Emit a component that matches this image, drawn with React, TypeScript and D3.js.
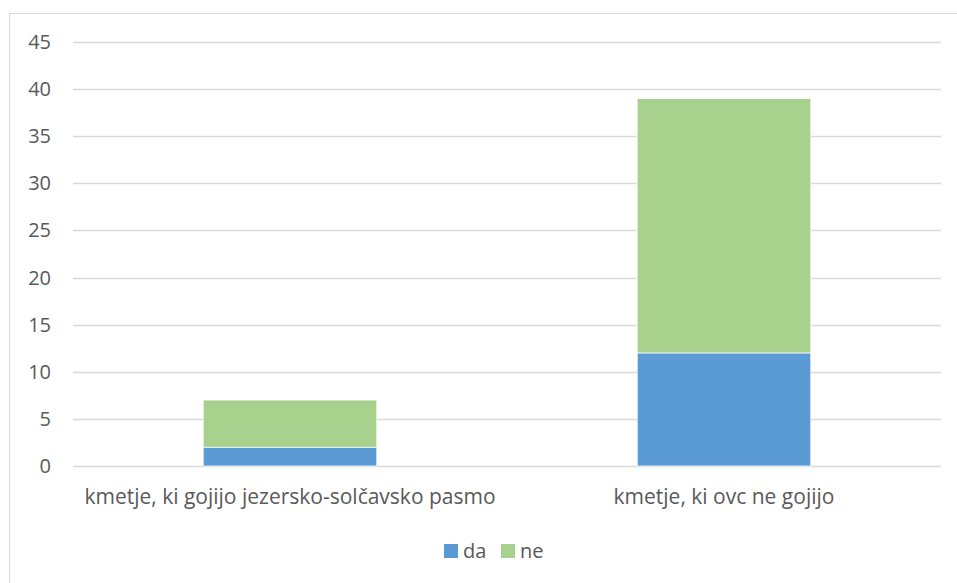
import React from "react";
import * as d3 from "d3";

const categories = ["kmetje, ki gojijo jezersko-solčavsko pasmo", "kmetje, ki ovc ne gojijo"];
const seriesNames = ["da", "ne"];
const daValues = [2, 12];
const neValues = [5, 27];
const yTicks = [0, 5, 10, 15, 20, 25, 30, 35, 40, 45];
const colors = ["#5B9BD5", "#A9D18E"];

const W = 957;
const H = 583;
const FONT = "'Open Sans', 'Noto Sans', sans-serif";

export default function App() {
  const x = d3.scaleBand<string>().domain(categories).range([73, 941]).paddingInner(0.6).paddingOuter(0.3);
  const y = d3.scaleLinear().domain([0, 45]).range([466, 42]);
  const rows = categories.map((c, i) => ({ cat: c, da: daValues[i], ne: neValues[i] }));
  const stack = d3.stack<any>().keys(seriesNames)(rows);

  return (
    <svg width={W} height={H} style={{ position: "absolute", left: 0, top: 0, background: "#fff" }}>
      <rect x={9.5} y={13.5} width={W + 10} height={H + 10} fill="#fff" stroke="#D9D9D9" strokeWidth={1} />
      {yTicks.map((t) => (
        <g key={t}>
          <line x1={73} x2={941} y1={Math.round(y(t)) + 0.5} y2={Math.round(y(t)) + 0.5} stroke="#D9D9D9" strokeWidth={1.3} />
          <text x={51} y={y(t)} dy="0.35em" textAnchor="end" fontFamily={FONT} fontSize={20} fill="#595959">
            {t}
          </text>
        </g>
      ))}
      {stack.map((s, si) => (
        <g key={s.key}>
          {s.map((d, i) => (
            <rect
              key={i}
              x={x(categories[i])}
              width={x.bandwidth()}
              y={y(d[1])}
              height={y(d[0]) - y(d[1])}
              fill={colors[si]}
              stroke="#fff"
              strokeWidth={0.75}
            />
          ))}
        </g>
      ))}
      {categories.map((c) => (
        <text key={c} x={x(c)! + x.bandwidth() / 2} y={497} dy="0.35em" textAnchor="middle" fontFamily={FONT} fontSize={21} fill="#595959">
          {c}
        </text>
      ))}
      {seriesNames.map((n, i) => {
        const lx = [444, 501][i];
        return (
          <g key={n}>
            <rect x={lx} y={544} width={14} height={14} fill={colors[i]} />
            <text x={lx + 19} y={551} dy="0.35em" fontFamily={FONT} fontSize={20} fill="#595959">
              {n}
            </text>
          </g>
        );
      })}
    </svg>
  );
}
